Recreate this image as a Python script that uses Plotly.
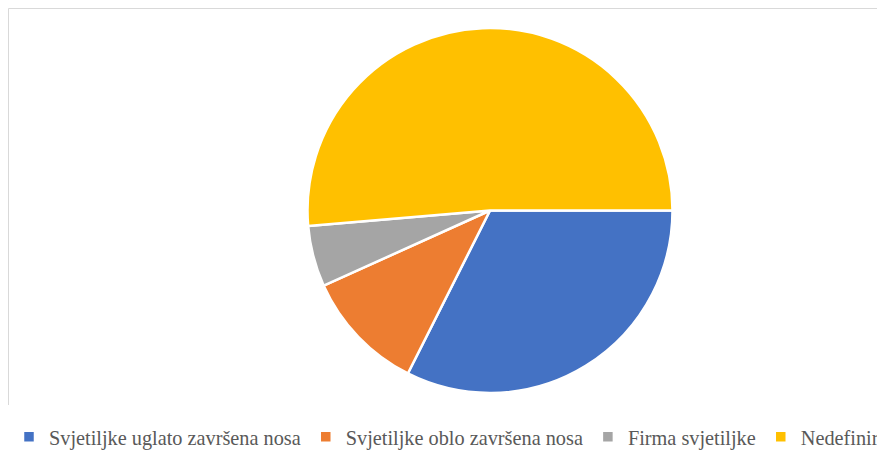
import plotly.graph_objects as go

labels = ["Svjetiljke uglato završena nosa", "Svjetiljke oblo završena nosa",
          "Firma svjetiljke", "Nedefinirani ulomci"]
values = [12, 4, 2, 19]
colors = ["#4472C4", "#ED7D31", "#A5A5A5", "#FFC000"]

# page body has an 8px margin; figure pixel coords = screen coords - 8
W, H = 1000, 452
T, B = 20, 67
PH = H - T - B

def px_x(p):
    return p / W

def px_y(p):
    return (H - B - p) / PH

fig = go.Figure(go.Pie(
    labels=labels, values=values, sort=False, direction="clockwise", rotation=90,
    marker=dict(colors=colors, line=dict(color="white", width=2.5)),
    textinfo="none", hoverinfo="label+value+percent",
    domain=dict(x=[0.292, 0.672], y=[0, 1]),
))

fig.update_layout(
    width=W, height=H,
    margin=dict(l=0, r=0, t=T, b=B, autoexpand=False),
    paper_bgcolor="white", plot_bgcolor="white",
    showlegend=True,
    legend=dict(orientation="h", x=px_x(1), xanchor="left", y=px_y(409), yanchor="top",
                font=dict(family="Liberation Serif, Times New Roman, serif", size=20.3, color="#595959"),
                itemwidth=30, bgcolor="rgba(0,0,0,0)"),
    shapes=[
        dict(type="line", xref="paper", yref="paper", x0=px_x(0.5), x1=1.0, y0=px_y(0.5), y1=px_y(0.5),
             line=dict(color="#D9D9D9", width=1)),
        dict(type="line", xref="paper", yref="paper", x0=px_x(0.5), x1=px_x(0.5), y0=px_y(0.5), y1=px_y(397),
             line=dict(color="#D9D9D9", width=1)),
    ],
)

fig.write_html("out.html")
